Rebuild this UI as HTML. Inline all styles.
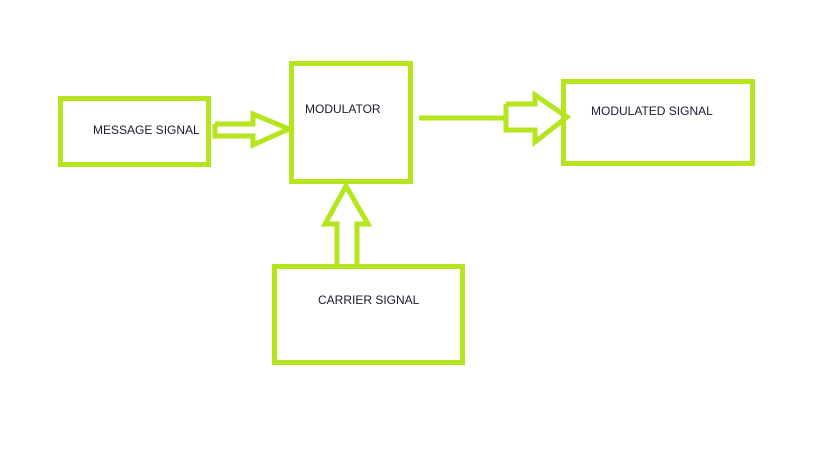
<!DOCTYPE html>
<html><head><style>
html,body{margin:0;padding:0;background:#fff;width:819px;height:460px;overflow:hidden}
svg{display:block}
text{font-family:"Liberation Sans",sans-serif;font-size:12px;fill:#1a1a2e}
</style></head><body>
<svg width="819" height="460" viewBox="0 0 819 460">
<g fill="none" stroke="#b5e61d" stroke-width="5" stroke-linejoin="miter">
<rect x="60.5" y="98.5" width="148" height="66"/>
<rect x="291.5" y="63.5" width="119" height="118"/>
<rect x="563.5" y="81.5" width="189" height="82"/>
<rect x="274.5" y="266.5" width="188" height="96"/>
<polyline points="215,124 253,124 253,114 289,129 253,145 253,136 215,136 215,124"/>
<line x1="419" y1="118" x2="505" y2="118"/>
<polyline points="506,104 535,104 535,95 567,117 535,142 535,130 506,130 506,104"/>
<polyline points="337,267 337,224 325,224 346,186 368,224 357,224 357,267"/>
</g>
<text x="93" y="134">MESSAGE SIGNAL</text>
<text x="305" y="113">MODULATOR</text>
<text x="591" y="115">MODULATED SIGNAL</text>
<text x="318" y="304">CARRIER SIGNAL</text>
</svg>
</body></html>
